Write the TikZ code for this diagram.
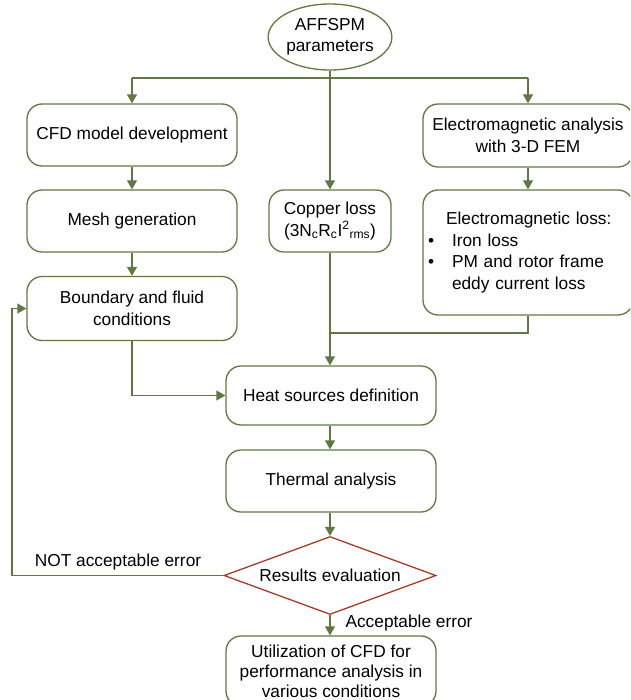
\documentclass[tikz,border=0pt]{standalone}
\usepackage{fontspec}
\setmainfont{Liberation Sans}
\usetikzlibrary{shapes.geometric,arrows.meta}
\definecolor{edgegreen}{RGB}{97,120,68}
\definecolor{edgered}{RGB}{163,60,42}
\begin{document}
\begin{tikzpicture}[x=1pt,y=-1pt,
  every node/.style={font=\fontsize{17.3}{21.5}\selectfont, text=black},
  stepbox/.style={draw=edgegreen, line width=1.3pt, rounded corners=15pt, fill=white, align=center, inner sep=0pt},
  conn/.style={draw=edgegreen, line width=1.3pt},
  arr/.style={conn, -{Triangle[width=10pt,length=9pt]}},
  lbl/.style={inner sep=0pt}]
\useasboundingbox (0,0) rectangle (630,700);
\clip (0,0) rectangle (630,700);
% nodes
\node[draw=edgegreen, line width=1.3pt, ellipse, minimum width=120, minimum height=66, inner sep=0pt, align=center] (par) at (330,37) {AFFSPM\\parameters};
\node[stepbox, minimum width=210, minimum height=62] (cfd) at (132,135) {CFD model development};
\node[stepbox, minimum width=210, minimum height=63] (ema) at (528,135.5) {Electromagnetic analysis\\with 3-D FEM};
\node[stepbox, minimum width=210, minimum height=62] (mesh) at (132,221) {Mesh generation};
\node[stepbox, minimum width=122, minimum height=62] (cu) at (330,221) {Copper loss\\(3N\textsubscript{c}R\textsubscript{c}I\textsuperscript{2}\textsubscript{rms})};
\node[stepbox, minimum width=210, minimum height=125, align=left, text width=202pt] (eml) at (528,252.5)
  {\hspace*{19pt}Electromagnetic loss:\\
   \makebox[25pt][l]{\hspace*{1pt}•}Iron loss\\
   \makebox[25pt][l]{\hspace*{1pt}•}PM and rotor frame\\
   \makebox[25pt][l]{}eddy current loss};
\node[stepbox, minimum width=210, minimum height=64] (bnd) at (132,308.5) {Boundary and fluid\\conditions};
\node[stepbox, minimum width=210, minimum height=59] (heat) at (331,395.5) {Heat sources definition};
\node[stepbox, minimum width=210, minimum height=62] (therm) at (331,481) {Thermal analysis};
\node[diamond, draw=edgered, line width=1.3pt, aspect=2.72, minimum width=212, minimum height=78, inner sep=0pt, fill=white] (res) at (330,575.5) {Results evaluation};
\node[stepbox, minimum width=210, minimum height=70, font=\fontsize{17.3}{20}\selectfont] (util) at (331,671) {Utilization of CFD for\\performance analysis in\\various conditions};
\node[lbl] (nok) at (118,562) {NOT acceptable error};
\node[lbl] (ok) at (409,623) {Acceptable error};
% connectors
\coordinate (j1) at (330,78);
\coordinate (j2) at (330,333);
\coordinate (lft) at (12,575.5);
\draw[conn] (cfd.north |- j1) -- (ema.north |- j1);
\draw[arr] (par.south) -- (cu.north);
\draw[arr] (cfd.north |- j1) -- (cfd.north);
\draw[arr] (ema.north |- j1) -- (ema.north);
\draw[arr] (cfd.south) -- (mesh.north);
\draw[arr] (mesh.south) -- (bnd.north);
\draw[arr] (ema.south) -- (eml.south |- ema.south) -- (eml.north);
\draw[conn] (eml.south) |- (j2);
\draw[arr] (cu.south) -- (cu.south |- heat.north);
\draw[arr] (bnd.south) |- (heat.west);
\draw[arr] (heat.south -| cu.south) -- (therm.north -| cu.south);
\draw[arr] (therm.south -| res.north) -- (res.north);
\draw[arr] (res.south) -- (util.north -| res.south);
\draw[arr] (res.west) -- (lft) |- (bnd.west);
\end{tikzpicture}
\end{document}
